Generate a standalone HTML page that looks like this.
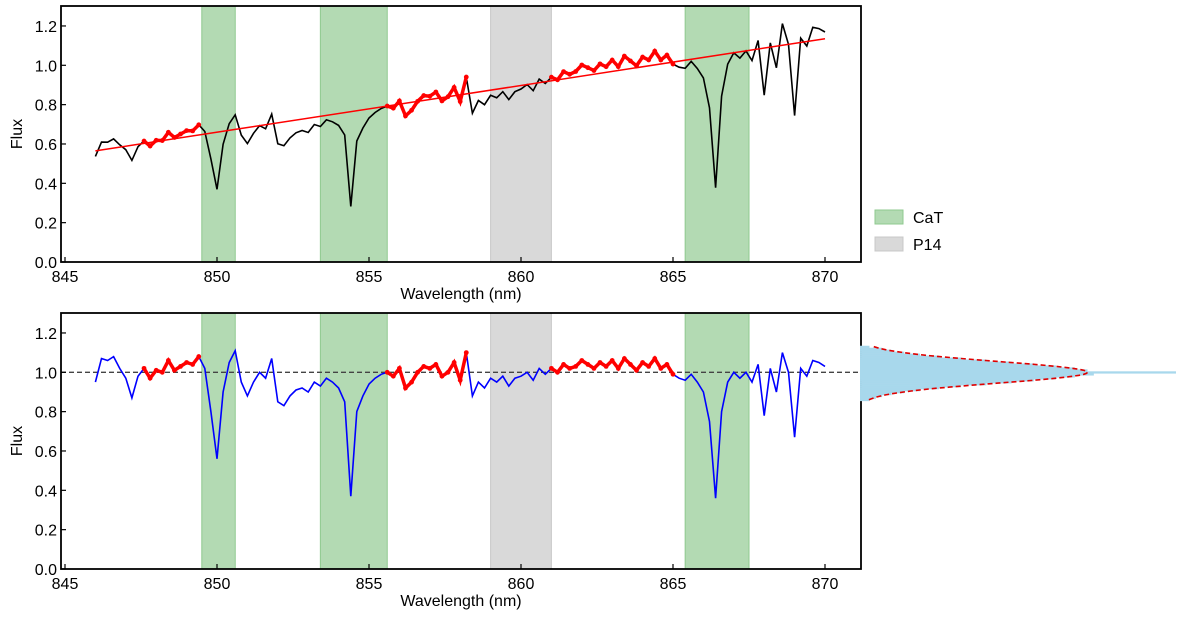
<!DOCTYPE html>
<html><head><meta charset="utf-8"><style>
body{margin:0;background:#fff;}
svg text{font-family:"Liberation Sans",sans-serif;fill:#000;}
</style></head><body>
<svg id="chart" width="1200" height="620" xmlns="http://www.w3.org/2000/svg"></svg>
<script>
const normFlux=[0.95,1.07,1.06,1.08,1.02,0.97,0.87,0.98,1.02,0.97,1.01,1.00,1.06,1.01,1.03,1.05,1.04,1.08,1.02,0.80,0.56,0.90,1.05,1.11,0.95,0.88,0.95,1.00,0.97,1.07,0.85,0.83,0.88,0.91,0.92,0.90,0.95,0.93,0.97,0.95,0.92,0.85,0.37,0.80,0.88,0.94,0.97,0.99,1.00,0.98,1.02,0.92,0.95,1.00,1.03,1.02,1.04,0.98,1.00,1.05,0.96,1.10,0.88,0.95,0.92,0.97,0.95,0.98,0.93,0.97,0.98,1.00,0.96,1.02,0.99,1.02,1.00,1.04,1.02,1.03,1.06,1.04,1.02,1.05,1.03,1.06,1.02,1.07,1.04,1.01,1.05,1.03,1.07,1.02,1.04,0.99,0.97,0.96,0.99,0.95,0.90,0.75,0.36,0.80,0.95,1.00,0.97,1.00,0.95,1.04,0.78,1.02,0.90,1.10,1.00,0.67,1.02,0.98,1.06,1.05,1.03];
const wlStart=846.0, wlStep=0.2;
const contWl=[846,870];
const contFlux=[0.565,1.135];
const redRanges=[[847.6,849.5],[855.6,858.3],[861.0,865.0]];
const catBands=[[849.5,850.6],[853.4,855.6],[865.4,867.5]];
const p14Bands=[[859.0,861.0]];
const xTicks=[845,850,855,860,865,870];
const yTicks=[0.0,0.2,0.4,0.6,0.8,1.0,1.2];
const histBins=[0.86,0.87,0.88,0.89,0.90,0.91,0.92,0.93,0.94,0.95,0.96,0.97,0.98,0.99,1.00,1.01,1.02,1.03,1.04,1.05,1.06,1.07,1.08,1.09,1.10,1.11,1.12,1.13];
const histCounts=[3,5,7,10,14,19,25,32,40,48,55,62,68,74,100,72,68,62,55,48,40,32,25,19,14,10,7,3];
const gaussMu=1.0, gaussSigma=0.055, gaussPeak=72;

const NS="http://www.w3.org/2000/svg";
const svg=document.getElementById('chart');
function mk(tag,attrs,parent){const e=document.createElementNS(NS,tag);for(const k in attrs)e.setAttribute(k,attrs[k]);(parent||svg).appendChild(e);return e;}
const X0=61,X1=861;
const xs=w=>65+(w-845)*30.4;
const wl=normFlux.map((_,i)=>wlStart+i*wlStep);
const cont=w=>contFlux[0]+(contFlux[1]-contFlux[0])*(w-contWl[0])/(contWl[1]-contWl[0]);

function panel(top,bot,name,vals,lineColor,withCont,withDash){
  const ys=v=>bot-v*196.7;
  const g=mk('g',{});
  
  
  catBands.forEach(b=>{const r=mk('rect',{x:xs(b[0]),y:top,width:xs(b[1])-xs(b[0]),height:bot-top,fill:'#b3dab3',stroke:'#8fc98f','stroke-width':1},g);
    });
  p14Bands.forEach(b=>{const r=mk('rect',{x:xs(b[0]),y:top,width:xs(b[1])-xs(b[0]),height:bot-top,fill:'#d9d9d9',stroke:'#c8c8c8','stroke-width':1},g);
    });
  if(withDash){const d=mk('line',{x1:X0,x2:X1,y1:ys(1),y2:ys(1),stroke:'#444','stroke-width':1.3,'stroke-dasharray':'5,3'},g);
    }
  const pts=wl.map((w,i)=>xs(w).toFixed(1)+','+ys(vals[i]).toFixed(1)).join(' ');
  const l=mk('polyline',{points:pts,fill:'none',stroke:lineColor,'stroke-width':1.6},g);
  
  redRanges.forEach(r=>{
    const idx=wl.map((w,i)=>i).filter(i=>wl[i]>=r[0]-1e-6&&wl[i]<=r[1]+1e-6);
    const p=mk('polyline',{points:idx.map(i=>xs(wl[i]).toFixed(1)+','+ys(vals[i]).toFixed(1)).join(' '),fill:'none',stroke:'#ff0000','stroke-width':3.5},g);
    
    idx.forEach(i=>{const c=mk('circle',{cx:xs(wl[i]),cy:ys(vals[i]),r:2.4,fill:'#ff0000'},g);
      });
  });
  if(withCont){const c=mk('line',{x1:xs(contWl[0]),x2:xs(contWl[1]),y1:ys(contFlux[0]),y2:ys(contFlux[1]),stroke:'#ff0000','stroke-width':1.5},g);
    }
  const fr=mk('rect',{x:X0,y:top,width:X1-X0,height:bot-top,fill:'none',stroke:'#000','stroke-width':1.8},g);
  
  xTicks.forEach(t=>{mk('line',{x1:xs(t),x2:xs(t),y1:bot,y2:bot-5,stroke:'#000','stroke-width':1.2},g);
    const tx=mk('text',{x:xs(t),y:bot+20,'text-anchor':'middle','font-size':16},g);tx.textContent=t;
    });
  yTicks.forEach(t=>{mk('line',{x1:X0,x2:X0+5,y1:ys(t),y2:ys(t),stroke:'#000','stroke-width':1.2},g);
    const tx=mk('text',{x:X0-4,y:ys(t)+6,'text-anchor':'end','font-size':16},g);tx.textContent=t.toFixed(1);
    });
  const xl=mk('text',{x:461,y:bot+37,'text-anchor':'middle','font-size':16},g);xl.textContent='Wavelength (nm)';
  
  const yl=mk('text',{x:0,y:0,'text-anchor':'middle','font-size':16,transform:`translate(22,${(top+bot)/2}) rotate(-90)`},g);yl.textContent='Flux';
  
  return ys;
}
const topVals=normFlux.map((v,i)=>v*cont(wl[i]));
panel(6,262,'top-panel',topVals,'#000',true,false);
const ysB=panel(313,569,'bottom-panel',normFlux,'#0000ff',false,true);

const hg=mk('g',{});


const HX=860, hScale=3.16, binH=0.01*196.7;
histBins.forEach((b,i)=>{const r=mk('rect',{x:HX,y:ysB(b)-binH/2,width:histCounts[i]*hScale,height:binH+0.3,fill:'#a8d8ec'},hg);
  });
let gp=[];
for(let v=0.86;v<=1.135;v+=0.005){gp.push((HX+gaussPeak*hScale*Math.exp(-((v-gaussMu)**2)/(2*gaussSigma**2))).toFixed(1)+','+ysB(v).toFixed(1));}
const gc=mk('polyline',{points:gp.join(' '),fill:'none',stroke:'#e00000','stroke-width':1.6,'stroke-dasharray':'5,3'},hg);


const lg=mk('g',{});


[['CaT','#b3dab3','#8fc98f',210],['P14','#d9d9d9','#c8c8c8',237]].forEach(e=>{
  const r=mk('rect',{x:875,y:e[3],width:28,height:14,fill:e[1],stroke:e[2]},lg);
  
  const t=mk('text',{x:913,y:e[3]+13,'font-size':16},lg);t.textContent=e[0];
  
});
</script>
</body></html>
